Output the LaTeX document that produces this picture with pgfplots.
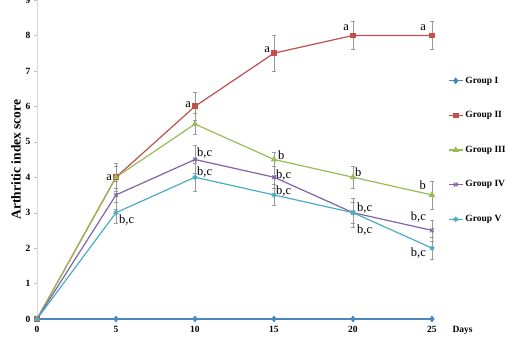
\documentclass[border=0pt]{standalone}
\usepackage{pgfplots}
\pgfplotsset{compat=1.18}
\usepackage{fontspec}
\setmainfont{Liberation Serif}
\definecolor{gI}{HTML}{4A86C0}
\definecolor{gII}{HTML}{C0504D}
\definecolor{gIII}{HTML}{9BBB59}
\definecolor{gIV}{HTML}{7F64A8}
\definecolor{gV}{HTML}{4BACC6}
\begin{document}
\begin{tikzpicture}
\path[use as bounding box] (-37pt,-20pt) rectangle (475pt,319pt);
\begin{axis}[
  scale only axis, width=395pt, height=319pt,
  xmin=0, xmax=25, ymin=0, ymax=9,
  axis x line*=bottom,
  axis y line*=left,
  x axis line style={draw=none},
  xtick style={draw=none},
  y axis line style={draw=black!15, line width=0.8pt},
  xtick={0,5,10,15,20,25}, ytick={0,1,...,9},
  ytick style={draw=black!25},
  tick align=outside, major tick length=3pt,
  ticklabel style={font=\bfseries\fontsize{9.5}{11}\selectfont},
  xticklabel style={yshift=-1pt},
  /pgf/number format/assume math mode=true,
  ylabel={\bfseries Arthritic index score},
  ylabel style={font=\fontsize{13.5}{15}\selectfont, yshift=-2pt},
  clip=false,
  legend style={at={(1.04,0.772)}, anchor=north west, draw=none, fill=none,
    font=\bfseries\fontsize{9.5}{11}\selectfont, row sep=22.8pt, cells={anchor=west}, inner xsep=0pt},
  legend image code/.code={\draw[mark repeat=2,mark phase=2] plot coordinates {(0cm,0cm) (0.25cm,0cm) (0.5cm,0cm)};},
  error bars/y dir=both, error bars/y explicit,
  error bars/error bar style={black!40, line width=0.5pt},
  error bars/error mark options={black!40, rotate=90, mark size=2pt},
]
\addplot[gI, line width=1.2pt, mark=diamond*, mark size=2.5pt, mark options={fill=gI}, error bars/.cd, y dir=none]
  coordinates {(0,0) (5,0) (10,0) (15,0) (20,0) (25,0)};
\addlegendentry{Group I}
\addplot[gII, line width=1.2pt, mark=square*, mark size=2.3pt, mark options={fill=gII}]
  coordinates {(0,0) +- (0,0) (5,4) +- (0,0.4) (10,6) +- (0,0.4) (15,7.5) +- (0,0.5) (20,8) +- (0,0.4) (25,8) +- (0,0.4)};
\addlegendentry{Group II}
\addplot[gIII, line width=1.2pt, mark=triangle*, mark size=2.6pt, mark options={fill=gIII}]
  coordinates {(0,0) +- (0,0) (5,4) +- (0,0.3) (10,5.5) +- (0,0.3) (15,4.5) +- (0,0.2) (20,4) +- (0,0.3) (25,3.5) +- (0,0.4)};
\addlegendentry{Group III}
\addplot[gIV, line width=1.2pt, mark=x, mark size=2.6pt]
  coordinates {(0,0) +- (0,0) (5,3.5) +- (0,0.4) (10,4.5) +- (0,0.4) (15,4) +- (0,0.3) (20,3) +- (0,0.4) (25,2.5) +- (0,0.3)};
\addlegendentry{Group IV}
\addplot[gV, line width=1.2pt, mark=asterisk, mark size=2.6pt]
  coordinates {(0,0) +- (0,0) (5,3) +- (0,0.3) (10,4) +- (0,0.4) (15,3.5) +- (0,0.3) (20,3) +- (0,0.3) (25,2) +- (0,0.3)};
\addlegendentry{Group V}
\node[font=\bfseries\fontsize{9.5}{11}\selectfont, anchor=north west] at (axis cs:25,0) [xshift=17pt, yshift=-4pt] {Days};
% annotations
\begin{scope}[every node/.style={font=\fontsize{12.5}{14}\selectfont, inner sep=1pt}]
\node[anchor=east] at (axis cs:5,4) [xshift=-3pt] {a};
\node[anchor=north west] at (axis cs:5,3) [xshift=2pt, yshift=-1pt] {b,c};
\node[anchor=east] at (axis cs:10,6) [xshift=-3pt, yshift=2pt] {a};
\node[anchor=west] at (axis cs:10,4.5) [xshift=1pt, yshift=6pt] {b,c};
\node[anchor=west] at (axis cs:10,4) [xshift=1pt, yshift=5pt] {b,c};
\node[anchor=east] at (axis cs:15,7.5) [xshift=-3pt, yshift=4pt] {a};
\node[anchor=west] at (axis cs:15,4.5) [xshift=3pt, yshift=4pt] {b};
\node[anchor=west] at (axis cs:15,4) [xshift=1pt, yshift=2pt] {b,c};
\node[anchor=west] at (axis cs:15,3.5) [xshift=1pt, yshift=4pt] {b,c};
\node[anchor=east] at (axis cs:20,8) [xshift=-3pt, yshift=8pt] {a};
\node[anchor=west] at (axis cs:20,4) [xshift=1pt, yshift=5pt] {b};
\node[anchor=west] at (axis cs:20,3) [xshift=3pt, yshift=5pt] {b,c};
\node[anchor=west] at (axis cs:20,3) [xshift=3pt, yshift=-17pt] {b,c};
\node[anchor=east] at (axis cs:25,8) [xshift=-5pt, yshift=8pt] {a};
\node[anchor=east] at (axis cs:25,3.5) [xshift=-5pt, yshift=10pt] {b};
\node[anchor=east] at (axis cs:25,2.5) [xshift=-5pt, yshift=13pt] {b,c};
\node[anchor=east] at (axis cs:25,2) [xshift=-5pt, yshift=-5pt] {b,c};
\end{scope}
\end{axis}
\end{tikzpicture}
\end{document}
